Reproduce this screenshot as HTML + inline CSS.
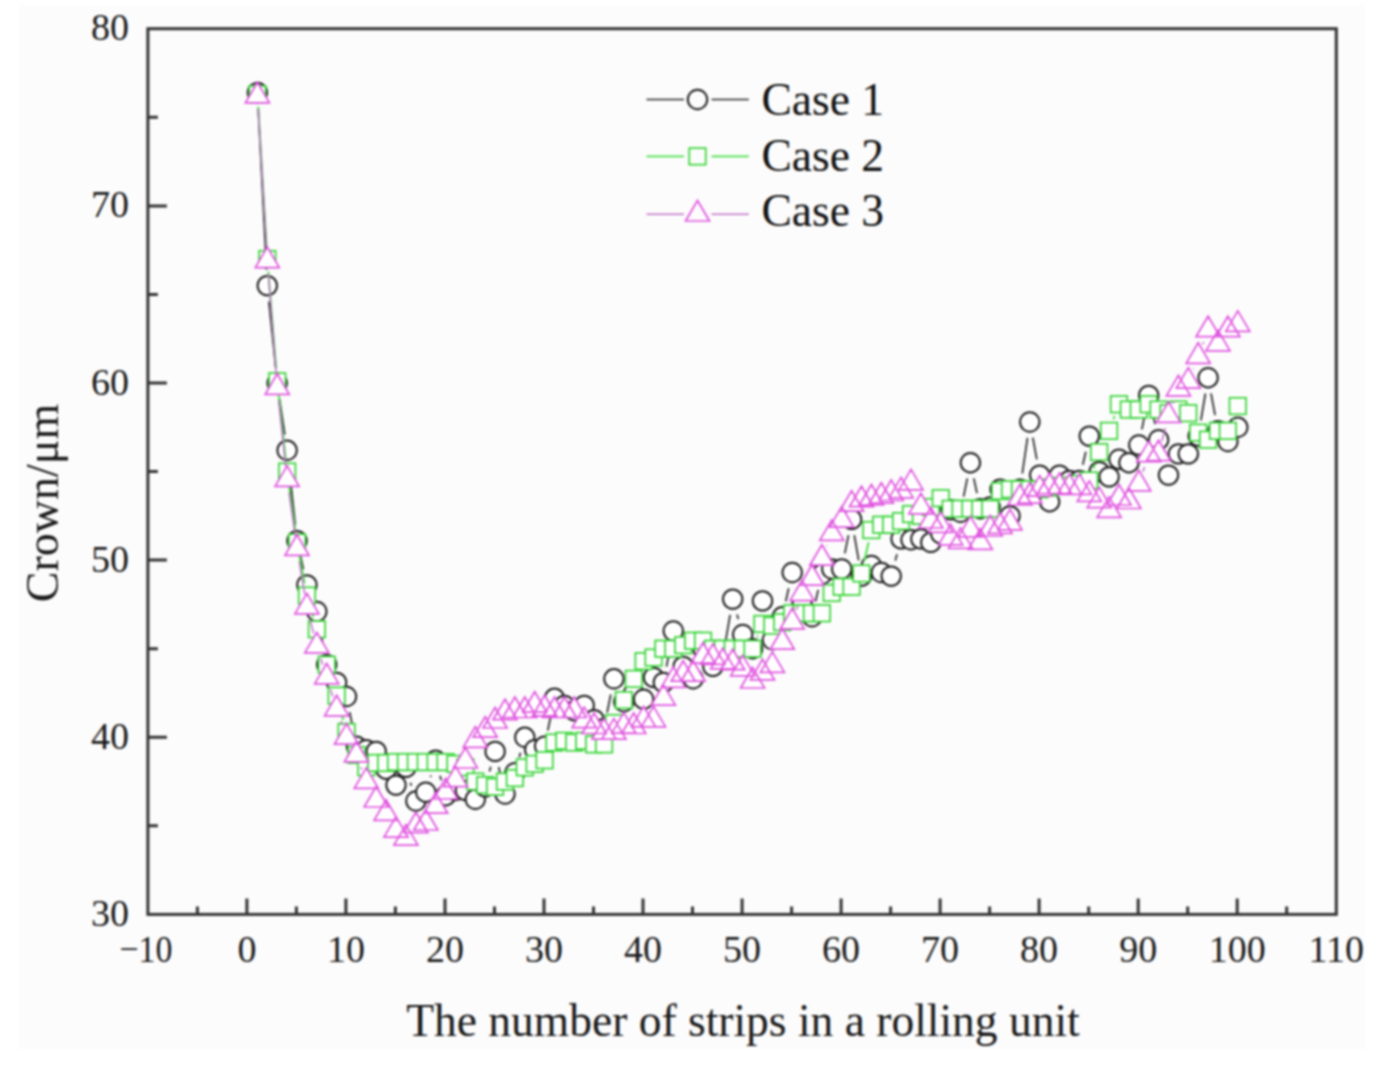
<!DOCTYPE html>
<html><head><meta charset="utf-8"><title>Crown chart</title>
<style>html,body{margin:0;padding:0;background:#fff;}body{width:1378px;height:1082px;overflow:hidden;font-family:"Liberation Serif",serif;}svg{display:block;filter:blur(0.8px);}</style>
</head><body><svg width="1378" height="1082" viewBox="0 0 1378 1082" font-family="'Liberation Serif', serif"><rect x="19" y="5" width="1346" height="1044" fill="#fcfcfc"/><path d="M197.4 914.4V906.4M246.9 914.4V898.4M296.4 914.4V906.4M345.9 914.4V898.4M395.4 914.4V906.4M445.0 914.4V898.4M494.5 914.4V906.4M544.0 914.4V898.4M593.5 914.4V906.4M643.0 914.4V898.4M692.5 914.4V906.4M742.1 914.4V898.4M791.6 914.4V906.4M841.1 914.4V898.4M890.6 914.4V906.4M940.1 914.4V898.4M989.6 914.4V906.4M1039.1 914.4V898.4M1088.7 914.4V906.4M1138.2 914.4V898.4M1187.7 914.4V906.4M1237.2 914.4V898.4M1286.7 914.4V906.4M147.9 825.8H157.9M147.9 737.3H166.9M147.9 648.7H157.9M147.9 560.1H166.9M147.9 471.6H157.9M147.9 383.0H166.9M147.9 294.4H157.9M147.9 205.9H166.9M147.9 117.3H157.9" stroke="#333" stroke-width="3" fill="none"/><rect x="147.9" y="28.7" width="1188.4" height="885.7" fill="none" stroke="#333" stroke-width="3.0"/><path d="M258.2 108.5L266.5 269.6M268.9 301.5L275.6 367.1M279.5 398.8L284.8 434.5M288.9 466.2L295.3 524.8M300.5 556.3L303.4 569.3M319.8 627.2L323.8 648.9M349.7 712.2L353.3 730.4M410.5 782.7L411.3 785.7M430.5 776.9L430.9 775.6M440.0 775.7L441.3 780.3M489.5 771.5L490.8 766.8M498.7 767.0L501.3 778.4M519.2 757.3L520.5 752.7M547.8 730.5L551.2 714.0M607.1 712.7L610.8 694.5M666.5 666.6L670.3 646.7M677.6 646.4L678.9 651.0M725.5 641.8L730.1 614.9M737.1 614.5L738.3 619.1M755.8 633.0L759.2 616.5M766.4 616.4L768.4 624.3M785.8 601.2L788.7 588.2M796.9 587.8L797.3 589.1M815.6 601.2L818.2 589.9M844.8 553.3L848.5 535.1M854.3 535.2L858.7 560.3M895.3 560.6L897.0 554.3M963.6 496.6L967.3 478.4M973.8 478.4L977.0 493.1M1022.3 473.5L1027.5 437.8M1032.8 437.7L1036.8 459.4M1082.8 464.8L1085.8 451.8M1093.6 451.6L1094.9 456.2M1141.9 429.3L1145.5 411.1M1152.2 411.0L1155.1 424.1M1162.9 455.1L1164.2 459.7M1200.9 420.4L1205.4 393.5M1211.0 393.4L1215.1 415.1" fill="none" stroke="#262626" stroke-width="1.7"/><g fill="#fff" stroke="#1e1e1e" stroke-width="2.0"><circle cx="257.4" cy="92.5" r="9.7"/><circle cx="267.3" cy="285.6" r="9.7"/><circle cx="277.2" cy="383.0" r="9.7"/><circle cx="287.1" cy="450.3" r="9.7"/><circle cx="297.0" cy="540.7" r="9.7"/><circle cx="306.9" cy="584.9" r="9.7"/><circle cx="316.8" cy="611.5" r="9.7"/><circle cx="326.7" cy="664.6" r="9.7"/><circle cx="336.6" cy="682.4" r="9.7"/><circle cx="346.5" cy="696.5" r="9.7"/><circle cx="356.4" cy="746.1" r="9.7"/><circle cx="366.3" cy="749.7" r="9.7"/><circle cx="376.2" cy="751.4" r="9.7"/><circle cx="386.1" cy="769.2" r="9.7"/><circle cx="396.0" cy="785.1" r="9.7"/><circle cx="405.9" cy="767.4" r="9.7"/><circle cx="415.9" cy="801.0" r="9.7"/><circle cx="425.8" cy="792.2" r="9.7"/><circle cx="435.7" cy="760.3" r="9.7"/><circle cx="445.6" cy="795.7" r="9.7"/><circle cx="455.5" cy="790.4" r="9.7"/><circle cx="465.4" cy="790.4" r="9.7"/><circle cx="475.3" cy="799.3" r="9.7"/><circle cx="485.2" cy="786.9" r="9.7"/><circle cx="495.1" cy="751.4" r="9.7"/><circle cx="505.0" cy="794.0" r="9.7"/><circle cx="514.9" cy="772.7" r="9.7"/><circle cx="524.8" cy="737.3" r="9.7"/><circle cx="534.7" cy="749.7" r="9.7"/><circle cx="544.6" cy="746.1" r="9.7"/><circle cx="554.5" cy="698.3" r="9.7"/><circle cx="564.4" cy="705.4" r="9.7"/><circle cx="574.3" cy="710.7" r="9.7"/><circle cx="584.2" cy="705.4" r="9.7"/><circle cx="594.1" cy="719.6" r="9.7"/><circle cx="604.0" cy="728.4" r="9.7"/><circle cx="613.9" cy="678.8" r="9.7"/><circle cx="623.8" cy="701.8" r="9.7"/><circle cx="633.7" cy="693.0" r="9.7"/><circle cx="643.6" cy="699.2" r="9.7"/><circle cx="653.5" cy="677.4" r="9.7"/><circle cx="663.4" cy="682.4" r="9.7"/><circle cx="673.3" cy="631.0" r="9.7"/><circle cx="683.2" cy="666.4" r="9.7"/><circle cx="693.1" cy="678.8" r="9.7"/><circle cx="703.0" cy="648.7" r="9.7"/><circle cx="712.9" cy="666.4" r="9.7"/><circle cx="722.8" cy="657.6" r="9.7"/><circle cx="732.7" cy="599.1" r="9.7"/><circle cx="742.7" cy="634.5" r="9.7"/><circle cx="752.6" cy="648.7" r="9.7"/><circle cx="762.5" cy="600.9" r="9.7"/><circle cx="772.4" cy="639.8" r="9.7"/><circle cx="782.3" cy="616.8" r="9.7"/><circle cx="792.2" cy="572.5" r="9.7"/><circle cx="802.1" cy="604.4" r="9.7"/><circle cx="812.0" cy="616.8" r="9.7"/><circle cx="821.9" cy="574.3" r="9.7"/><circle cx="831.8" cy="569.0" r="9.7"/><circle cx="841.7" cy="569.0" r="9.7"/><circle cx="851.6" cy="519.4" r="9.7"/><circle cx="861.5" cy="576.1" r="9.7"/><circle cx="871.4" cy="565.5" r="9.7"/><circle cx="881.3" cy="572.5" r="9.7"/><circle cx="891.2" cy="576.1" r="9.7"/><circle cx="901.1" cy="538.9" r="9.7"/><circle cx="911.0" cy="539.8" r="9.7"/><circle cx="920.9" cy="538.9" r="9.7"/><circle cx="930.8" cy="542.4" r="9.7"/><circle cx="940.7" cy="533.6" r="9.7"/><circle cx="950.6" cy="509.7" r="9.7"/><circle cx="960.5" cy="512.3" r="9.7"/><circle cx="970.4" cy="462.7" r="9.7"/><circle cx="980.3" cy="508.8" r="9.7"/><circle cx="990.2" cy="507.0" r="9.7"/><circle cx="1000.1" cy="489.3" r="9.7"/><circle cx="1010.0" cy="515.9" r="9.7"/><circle cx="1019.9" cy="489.3" r="9.7"/><circle cx="1029.8" cy="422.0" r="9.7"/><circle cx="1039.7" cy="475.1" r="9.7"/><circle cx="1049.6" cy="501.7" r="9.7"/><circle cx="1059.5" cy="475.1" r="9.7"/><circle cx="1069.4" cy="480.4" r="9.7"/><circle cx="1079.4" cy="480.4" r="9.7"/><circle cx="1089.3" cy="436.1" r="9.7"/><circle cx="1099.2" cy="471.6" r="9.7"/><circle cx="1109.1" cy="476.9" r="9.7"/><circle cx="1119.0" cy="459.2" r="9.7"/><circle cx="1128.9" cy="462.7" r="9.7"/><circle cx="1138.8" cy="445.0" r="9.7"/><circle cx="1148.7" cy="395.4" r="9.7"/><circle cx="1158.6" cy="439.7" r="9.7"/><circle cx="1168.5" cy="475.1" r="9.7"/><circle cx="1178.4" cy="453.9" r="9.7"/><circle cx="1188.3" cy="453.9" r="9.7"/><circle cx="1198.2" cy="436.1" r="9.7"/><circle cx="1208.1" cy="377.7" r="9.7"/><circle cx="1218.0" cy="430.8" r="9.7"/><circle cx="1227.9" cy="441.5" r="9.7"/><circle cx="1237.8" cy="427.3" r="9.7"/></g><path d="M258.2 106.8L266.6 246.5M268.3 271.5L276.2 368.8M278.6 393.7L285.7 459.1M288.8 484.0L295.3 530.0M299.3 554.7L304.6 583.3M310.4 607.6L313.3 617.2M320.2 641.3L323.4 652.6M330.5 676.6L332.8 683.7M339.9 707.7L343.2 719.9M757.2 637.1L757.8 635.5M864.3 561.2L868.6 542.2M1093.4 468.6L1095.0 463.9M1113.4 419.1L1114.6 416.0M1232.5 419.2L1233.2 417.6" fill="none" stroke="#48e048" stroke-width="1.9"/><g fill="#fff" stroke="#36d436" stroke-width="1.7"><rect x="249.2" y="86.0" width="16.5" height="16.5"/><rect x="259.1" y="250.8" width="16.5" height="16.5"/><rect x="269.0" y="373.0" width="16.5" height="16.5"/><rect x="278.9" y="463.3" width="16.5" height="16.5"/><rect x="288.8" y="534.2" width="16.5" height="16.5"/><rect x="298.7" y="587.3" width="16.5" height="16.5"/><rect x="308.6" y="621.0" width="16.5" height="16.5"/><rect x="318.5" y="656.4" width="16.5" height="16.5"/><rect x="328.4" y="687.4" width="16.5" height="16.5"/><rect x="338.3" y="723.7" width="16.5" height="16.5"/><rect x="348.2" y="746.7" width="16.5" height="16.5"/><rect x="358.1" y="759.1" width="16.5" height="16.5"/><rect x="368.0" y="754.7" width="16.5" height="16.5"/><rect x="377.9" y="754.7" width="16.5" height="16.5"/><rect x="387.8" y="753.8" width="16.5" height="16.5"/><rect x="397.7" y="753.8" width="16.5" height="16.5"/><rect x="407.6" y="753.8" width="16.5" height="16.5"/><rect x="417.5" y="753.8" width="16.5" height="16.5"/><rect x="427.4" y="753.8" width="16.5" height="16.5"/><rect x="437.3" y="753.8" width="16.5" height="16.5"/><rect x="447.2" y="755.6" width="16.5" height="16.5"/><rect x="457.1" y="759.1" width="16.5" height="16.5"/><rect x="467.0" y="773.3" width="16.5" height="16.5"/><rect x="476.9" y="776.8" width="16.5" height="16.5"/><rect x="486.8" y="778.6" width="16.5" height="16.5"/><rect x="496.7" y="773.3" width="16.5" height="16.5"/><rect x="506.6" y="769.8" width="16.5" height="16.5"/><rect x="516.5" y="759.1" width="16.5" height="16.5"/><rect x="526.4" y="755.6" width="16.5" height="16.5"/><rect x="536.3" y="752.0" width="16.5" height="16.5"/><rect x="546.2" y="734.3" width="16.5" height="16.5"/><rect x="556.1" y="732.6" width="16.5" height="16.5"/><rect x="566.0" y="734.3" width="16.5" height="16.5"/><rect x="576.0" y="732.6" width="16.5" height="16.5"/><rect x="585.9" y="736.1" width="16.5" height="16.5"/><rect x="595.8" y="736.1" width="16.5" height="16.5"/><rect x="605.7" y="714.8" width="16.5" height="16.5"/><rect x="615.6" y="691.8" width="16.5" height="16.5"/><rect x="625.5" y="670.6" width="16.5" height="16.5"/><rect x="635.4" y="652.9" width="16.5" height="16.5"/><rect x="645.3" y="649.3" width="16.5" height="16.5"/><rect x="655.2" y="640.5" width="16.5" height="16.5"/><rect x="665.1" y="640.5" width="16.5" height="16.5"/><rect x="675.0" y="636.9" width="16.5" height="16.5"/><rect x="684.9" y="632.5" width="16.5" height="16.5"/><rect x="694.8" y="632.5" width="16.5" height="16.5"/><rect x="704.7" y="640.5" width="16.5" height="16.5"/><rect x="714.6" y="640.5" width="16.5" height="16.5"/><rect x="724.5" y="640.5" width="16.5" height="16.5"/><rect x="734.4" y="640.5" width="16.5" height="16.5"/><rect x="744.3" y="640.5" width="16.5" height="16.5"/><rect x="754.2" y="615.7" width="16.5" height="16.5"/><rect x="764.1" y="617.4" width="16.5" height="16.5"/><rect x="774.0" y="613.9" width="16.5" height="16.5"/><rect x="783.9" y="605.0" width="16.5" height="16.5"/><rect x="793.8" y="605.0" width="16.5" height="16.5"/><rect x="803.7" y="605.0" width="16.5" height="16.5"/><rect x="813.6" y="605.0" width="16.5" height="16.5"/><rect x="823.5" y="584.7" width="16.5" height="16.5"/><rect x="833.4" y="578.5" width="16.5" height="16.5"/><rect x="843.3" y="578.5" width="16.5" height="16.5"/><rect x="853.2" y="565.2" width="16.5" height="16.5"/><rect x="863.1" y="521.8" width="16.5" height="16.5"/><rect x="873.0" y="516.5" width="16.5" height="16.5"/><rect x="882.9" y="516.5" width="16.5" height="16.5"/><rect x="892.8" y="512.9" width="16.5" height="16.5"/><rect x="902.8" y="505.8" width="16.5" height="16.5"/><rect x="912.7" y="507.6" width="16.5" height="16.5"/><rect x="922.6" y="498.8" width="16.5" height="16.5"/><rect x="932.5" y="489.9" width="16.5" height="16.5"/><rect x="942.4" y="500.5" width="16.5" height="16.5"/><rect x="952.3" y="500.5" width="16.5" height="16.5"/><rect x="962.2" y="500.5" width="16.5" height="16.5"/><rect x="972.1" y="500.5" width="16.5" height="16.5"/><rect x="982.0" y="500.5" width="16.5" height="16.5"/><rect x="991.9" y="482.8" width="16.5" height="16.5"/><rect x="1001.8" y="481.0" width="16.5" height="16.5"/><rect x="1011.7" y="481.0" width="16.5" height="16.5"/><rect x="1021.6" y="481.0" width="16.5" height="16.5"/><rect x="1031.5" y="481.0" width="16.5" height="16.5"/><rect x="1041.4" y="479.3" width="16.5" height="16.5"/><rect x="1051.3" y="477.5" width="16.5" height="16.5"/><rect x="1061.2" y="477.5" width="16.5" height="16.5"/><rect x="1071.1" y="475.7" width="16.5" height="16.5"/><rect x="1081.0" y="472.2" width="16.5" height="16.5"/><rect x="1090.9" y="443.8" width="16.5" height="16.5"/><rect x="1100.8" y="422.6" width="16.5" height="16.5"/><rect x="1110.7" y="396.0" width="16.5" height="16.5"/><rect x="1120.6" y="401.3" width="16.5" height="16.5"/><rect x="1130.5" y="401.3" width="16.5" height="16.5"/><rect x="1140.4" y="396.0" width="16.5" height="16.5"/><rect x="1150.3" y="401.3" width="16.5" height="16.5"/><rect x="1160.2" y="404.9" width="16.5" height="16.5"/><rect x="1170.1" y="401.3" width="16.5" height="16.5"/><rect x="1180.0" y="404.9" width="16.5" height="16.5"/><rect x="1189.9" y="424.4" width="16.5" height="16.5"/><rect x="1199.8" y="431.4" width="16.5" height="16.5"/><rect x="1209.7" y="422.6" width="16.5" height="16.5"/><rect x="1219.6" y="422.6" width="16.5" height="16.5"/><rect x="1229.5" y="397.8" width="16.5" height="16.5"/></g><path d="M258.2 109.0L266.5 247.8M268.3 273.8L276.2 374.5M278.6 400.4L285.7 466.6M289.0 492.4L295.2 535.6M299.2 561.3L304.8 594.3M310.1 619.7L313.6 633.4M320.8 658.4L322.8 664.7M330.6 689.5L332.8 696.5M340.9 721.2L342.2 725.0M361.0 767.2L361.8 769.4M796.5 609.7L797.8 606.1M826.7 546.3L827.0 545.6M1014.9 510.9L1015.1 510.2M1142.9 471.7L1144.5 467.1M1161.8 441.3L1165.2 428.2M1173.0 403.4L1173.8 401.2M1193.1 369.2L1193.4 368.5M1202.7 344.3L1203.6 342.1" fill="none" stroke="#c070c8" stroke-width="1.5"/><path d="M257.4 82.4L269.4 102.9L245.4 102.9ZM267.3 247.1L279.3 267.6L255.3 267.6ZM277.2 373.8L289.2 394.3L265.2 394.3ZM287.1 465.9L299.1 486.4L275.1 486.4ZM297.0 534.8L309.0 555.3L285.0 555.3ZM306.9 593.4L318.9 613.9L294.9 613.9ZM316.8 632.4L328.8 652.9L304.8 652.9ZM326.7 663.4L338.7 683.9L314.7 683.9ZM336.6 695.3L348.6 715.8L324.6 715.8ZM346.5 723.6L358.5 744.1L334.5 744.1ZM356.4 741.3L368.4 761.8L344.4 761.8ZM366.3 767.9L378.3 788.4L354.3 788.4ZM376.2 786.5L388.2 807.0L364.2 807.0ZM386.1 799.8L398.1 820.3L374.1 820.3ZM396.0 816.6L408.0 837.1L384.0 837.1ZM405.9 824.6L417.9 845.1L393.9 845.1ZM415.9 812.2L427.9 832.7L403.9 832.7ZM425.8 809.5L437.8 830.0L413.8 830.0ZM435.7 792.7L447.7 813.2L423.7 813.2ZM445.6 778.5L457.6 799.0L433.6 799.0ZM455.5 766.1L467.5 786.6L443.5 786.6ZM465.4 747.5L477.4 768.0L453.4 768.0ZM475.3 726.8L487.3 747.3L463.3 747.3ZM485.2 716.7L497.2 737.2L473.2 737.2ZM495.1 707.5L507.1 728.0L483.1 728.0ZM505.0 699.2L517.0 719.7L493.0 719.7ZM514.9 697.0L526.9 717.5L502.9 717.5ZM524.8 697.0L536.8 717.5L512.8 717.5ZM534.7 691.7L546.7 712.2L522.7 712.2ZM544.6 695.3L556.6 715.8L532.6 715.8ZM554.5 697.0L566.5 717.5L542.5 717.5ZM564.4 697.0L576.4 717.5L552.4 717.5ZM574.3 697.0L586.3 717.5L562.3 717.5ZM584.2 707.1L596.2 727.6L572.2 727.6ZM594.1 713.0L606.1 733.5L582.1 733.5ZM604.0 718.6L616.0 739.1L592.0 739.1ZM613.9 718.6L625.9 739.1L601.9 739.1ZM623.8 712.6L635.8 733.1L611.8 733.1ZM633.7 713.0L645.7 733.5L621.7 733.5ZM643.6 706.4L655.6 726.9L631.6 726.9ZM653.5 706.4L665.5 726.9L641.5 726.9ZM663.4 684.6L675.4 705.1L651.4 705.1ZM673.3 666.9L685.3 687.4L661.3 687.4ZM683.2 660.7L695.2 681.2L671.2 681.2ZM693.1 660.7L705.1 681.2L681.1 681.2ZM703.0 642.7L715.0 663.2L691.0 663.2ZM712.9 643.9L724.9 664.4L700.9 664.4ZM722.8 648.3L734.8 668.8L710.8 668.8ZM732.7 649.2L744.7 669.7L720.7 669.7ZM742.7 655.4L754.7 675.9L730.7 675.9ZM752.6 667.5L764.6 688.0L740.6 688.0ZM762.5 659.3L774.5 679.8L750.5 679.8ZM772.4 651.9L784.4 672.4L760.4 672.4ZM782.3 628.7L794.3 649.2L770.3 649.2ZM792.2 608.3L804.2 628.8L780.2 628.8ZM802.1 580.1L814.1 600.6L790.1 600.6ZM812.0 564.7L824.0 585.2L800.0 585.2ZM821.9 544.7L833.9 565.2L809.9 565.2ZM831.8 519.9L843.8 540.4L819.8 540.4ZM841.7 506.6L853.7 527.1L829.7 527.1ZM851.6 490.7L863.6 511.2L839.6 511.2ZM861.5 486.2L873.5 506.7L849.5 506.7ZM871.4 484.5L883.4 505.0L859.4 505.0ZM881.3 482.7L893.3 503.2L869.3 503.2ZM891.2 480.0L903.2 500.5L879.2 500.5ZM901.1 477.4L913.1 497.9L889.1 497.9ZM911.0 469.4L923.0 489.9L899.0 489.9ZM920.9 493.3L932.9 513.8L908.9 513.8ZM930.8 507.5L942.8 528.0L918.8 528.0ZM940.7 511.9L952.7 532.4L928.7 532.4ZM950.6 524.3L962.6 544.8L938.6 544.8ZM960.5 527.9L972.5 548.4L948.5 548.4ZM970.4 516.4L982.4 536.9L958.4 536.9ZM980.3 528.8L992.3 549.3L968.3 549.3ZM990.2 515.5L1002.2 536.0L978.2 536.0ZM1000.1 512.8L1012.1 533.3L988.1 533.3ZM1010.0 509.3L1022.0 529.8L998.0 529.8ZM1019.9 484.5L1031.9 505.0L1007.9 505.0ZM1029.8 482.7L1041.8 503.2L1017.8 503.2ZM1039.7 475.6L1051.7 496.1L1027.7 496.1ZM1049.6 473.0L1061.6 493.5L1037.6 493.5ZM1059.5 473.0L1071.5 493.5L1047.5 493.5ZM1069.4 473.9L1081.4 494.4L1057.4 494.4ZM1079.4 473.9L1091.4 494.4L1067.4 494.4ZM1089.3 480.9L1101.3 501.4L1077.3 501.4ZM1099.2 487.1L1111.2 507.6L1087.2 507.6ZM1109.1 496.9L1121.1 517.4L1097.1 517.4ZM1119.0 484.5L1131.0 505.0L1107.0 505.0ZM1128.9 488.0L1140.9 508.5L1116.9 508.5ZM1138.8 470.3L1150.8 490.8L1126.8 490.8ZM1148.7 441.1L1160.7 461.6L1136.7 461.6ZM1158.6 440.2L1170.6 460.7L1146.6 460.7ZM1168.5 401.9L1180.5 422.4L1156.5 422.4ZM1178.4 375.4L1190.4 395.9L1166.4 395.9ZM1188.3 367.6L1200.3 388.1L1176.3 388.1ZM1198.2 342.8L1210.2 363.3L1186.2 363.3ZM1208.1 316.2L1220.1 336.7L1196.1 336.7ZM1218.0 330.4L1230.0 350.9L1206.0 350.9ZM1227.9 316.2L1239.9 336.7L1215.9 336.7ZM1237.8 310.9L1249.8 331.4L1225.8 331.4Z" fill="#fff" stroke="#e055e0" stroke-width="1.7" stroke-linejoin="miter"/><g font-size="38" fill="#1a1a1a"><text x="119.5" y="961.5" textLength="53" lengthAdjust="spacingAndGlyphs">−10</text><text x="246.9" y="961.5" text-anchor="middle">0</text><text x="345.9" y="961.5" text-anchor="middle">10</text><text x="445.0" y="961.5" text-anchor="middle">20</text><text x="544.0" y="961.5" text-anchor="middle">30</text><text x="643.0" y="961.5" text-anchor="middle">40</text><text x="742.1" y="961.5" text-anchor="middle">50</text><text x="841.1" y="961.5" text-anchor="middle">60</text><text x="940.1" y="961.5" text-anchor="middle">70</text><text x="1039.1" y="961.5" text-anchor="middle">80</text><text x="1138.2" y="961.5" text-anchor="middle">90</text><text x="1237.2" y="961.5" text-anchor="middle">100</text><text x="1336.2" y="961.5" text-anchor="middle">110</text><text x="129" y="925.9" text-anchor="end">30</text><text x="129" y="748.8" text-anchor="end">40</text><text x="129" y="571.6" text-anchor="end">50</text><text x="129" y="394.5" text-anchor="end">60</text><text x="129" y="217.4" text-anchor="end">70</text><text x="129" y="40.2" text-anchor="end">80</text></g><text x="743" y="1035.7" text-anchor="middle" font-size="45.5" fill="#1a1a1a">The number of strips in a rolling unit</text><text transform="translate(58 503) rotate(-90)" text-anchor="middle" font-size="46" fill="#1a1a1a">Crown/μm</text><path d="M646.5 99.5H684.0M711.5 99.5H748.8" stroke="#262626" stroke-width="1.7"/><circle cx="697.5" cy="99.5" r="9.7" fill="none" stroke="#1e1e1e" stroke-width="2.0"/><text x="761.5" y="115.3" font-size="45.5" fill="#111">Case 1</text><path d="M646.5 156.4H684.0M711.5 156.4H748.8" stroke="#48e048" stroke-width="1.9"/><rect x="689.25" y="148.15" width="16.5" height="16.5" fill="none" stroke="#36d436" stroke-width="1.7"/><text x="761.5" y="170.5" font-size="45.5" fill="#111">Case 2</text><path d="M646.5 214.2H684.0M711.5 214.2H748.8" stroke="#c070c8" stroke-width="1.5"/><path d="M697.5 200.5L709.5 221.0L685.5 221.0Z" fill="none" stroke="#e055e0" stroke-width="1.7"/><text x="761.5" y="226.2" font-size="45.5" fill="#111">Case 3</text></svg></body></html>
